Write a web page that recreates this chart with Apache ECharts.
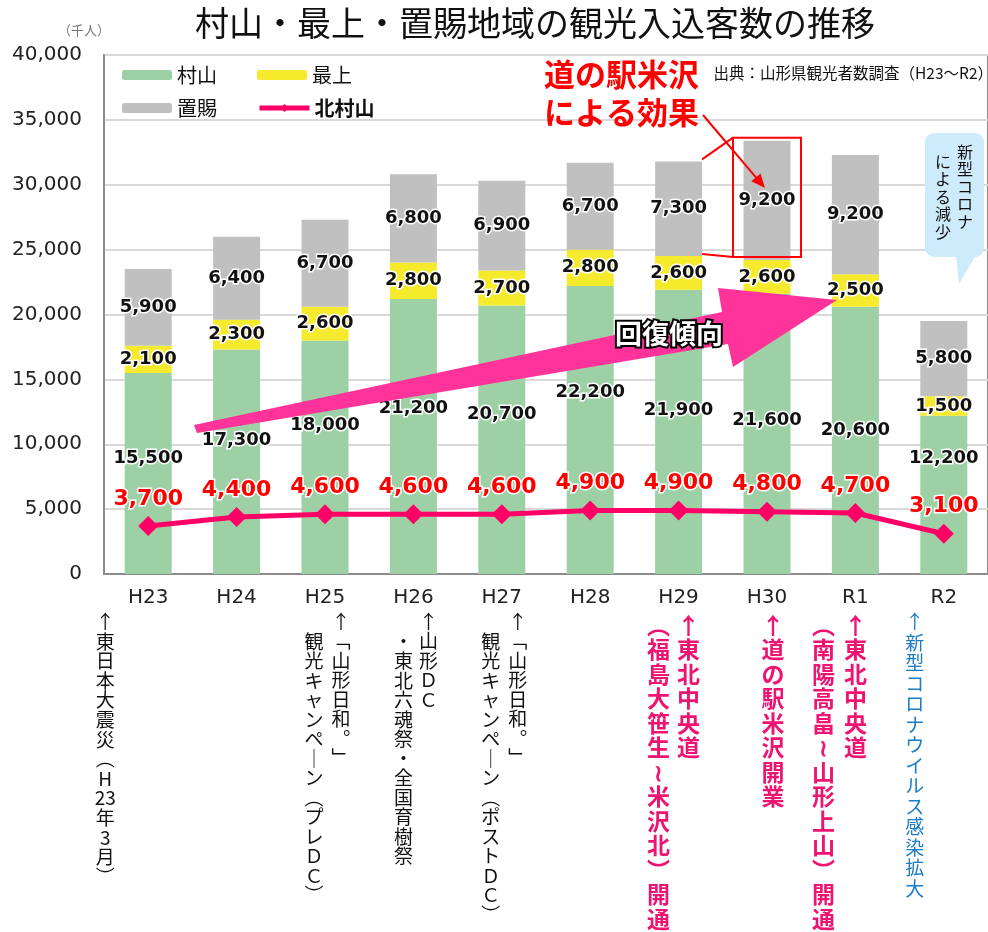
<!DOCTYPE html>
<html><head><meta charset="utf-8">
<script src="https://cdn.jsdelivr.net/npm/echarts@6/dist/echarts.min.js"></script>
<style>html,body{margin:0;padding:0;background:#fff}#c{width:988px;height:932px}</style>
</head><body><div id="c"></div>
<script>
// ---- data ----
const categories = ['H23','H24','H25','H26','H27','H28','H29','H30','R1','R2'];
const murayama = [15500,17300,18000,21200,20700,22200,21900,21600,20600,12200];
const mogami = [2100,2300,2600,2800,2700,2800,2600,2600,2500,1500];
const okitama = [5900,6400,6700,6800,6900,6700,7300,9200,9200,5800];
const totals = [23500,26000,27300,30800,30300,31700,31800,33400,32300,19500];
const kitaMurayama = [3700,4400,4600,4600,4600,4900,4900,4800,4700,3100];
const seriesNames = ['村山','最上','置賜','北村山'];
const titleText = '村山・最上・置賜地域の観光入込客数の推移';
const unitText = '（千人）';
const sourceText = '出典：山形県観光者数調査（H23～R2）';
const effectText = '道の駅米沢\nによる効果';
const trendText = '回復傾向';
const coronaBubble = ['新型コロナ','による減少'];
const eventNotes = [
  {cat:0, cols:['↑東日本大震災（H23年3月）']},
  {cat:2, cols:['↑「山形日和。」','観光キャンペーン（プレＤＣ）']},
  {cat:3, cols:['↑山形ＤＣ','・東北六魂祭・全国育樹祭']},
  {cat:4, cols:['↑「山形日和。」','観光キャンペーン（ポストＤＣ）']},
  {cat:6, cols:['↑東北中央道','（福島大笹生～米沢北）開通']},
  {cat:7, cols:['↑道の駅米沢開業']},
  {cat:8, cols:['↑東北中央道','（南陽高畠～山形上山）開通']},
  {cat:9, cols:['↑新型コロナウイルス感染拡大']}
];

// ---- chart ----
const chart = echarts.init(document.getElementById('c'), null, {renderer:'canvas'});
const numFont = 'DejaVu Sans';
const jpFont = '"Noto Sans CJK JP", "Noto Sans CJK SC", sans-serif';
const fmt = v => Number(v).toLocaleString('en-US');
const C_GREEN = '#9ed0a6', C_YEL = '#f6ea2c', C_GRAY = '#c0c0c0', C_LINE = '#ff0066';

// label nudges (style only) for the 村山 labels
const muraShift = [-15,-21,-32,-28,-25,-38,-22,-14,-10,-37];

const valLabel = {show:true, position:'inside', formatter:p=>fmt(p.value), color:'#111',
  fontFamily:numFont, fontWeight:'bold', fontSize:18, textBorderColor:'#fff', textBorderWidth:3};
const legText = {fontFamily:jpFont, fontSize:20, color:'#111'};

const option = {
  animation:false,
  backgroundColor:'#fff',
  title:{text:titleText, left:530, top:1, textAlign:'center',
    textStyle:{fontFamily:jpFont, fontSize:34, fontWeight:'normal', color:'#111'}},
  legend:[
    {data:[seriesNames[0],seriesNames[1]], left:117, top:60, itemWidth:50, itemHeight:10, itemGap:40,
      textStyle:legText},
    {data:[seriesNames[2], {name:seriesNames[3], textStyle:{fontWeight:'bold'}, lineStyle:{width:5}}],
      left:117, top:93, itemWidth:50, itemHeight:10, itemGap:40, textStyle:legText}
  ],
  grid:{left:104, top:55, width:890, height:519, show:true, borderColor:'#8c8c8c', borderWidth:2},
  xAxis:{type:'category', data:categories, axisTick:{show:false},
    axisLine:{lineStyle:{color:'#8c8c8c', width:2}},
    axisLabel:{fontFamily:numFont, fontSize:20, color:'#222', margin:14}},
  yAxis:{type:'value', min:0, max:40000, interval:5000,
    axisLine:{show:true, lineStyle:{color:'#8c8c8c', width:2}}, axisTick:{show:false},
    axisLabel:{formatter:fmt, fontFamily:numFont, fontSize:20, color:'#222', margin:22},
    splitLine:{lineStyle:{color:'#d9d9d9', width:2}}},
  series:[
    {name:seriesNames[0], type:'bar', stack:'t', barWidth:47, itemStyle:{color:C_GREEN},
      data:murayama.map((v,i)=>({value:v, label:{offset:[0, muraShift[i]]}})), label:valLabel},
    {name:seriesNames[1], type:'bar', stack:'t', barWidth:47, itemStyle:{color:C_YEL},
      data:mogami, label:valLabel},
    {name:seriesNames[2], type:'bar', stack:'t', barWidth:47, itemStyle:{color:C_GRAY},
      data:okitama, label:valLabel},
    {name:'合計', type:'scatter', data:totals, symbolSize:1, itemStyle:{opacity:0}, z:4,
      label:{show:true, position:'top', distance:3, formatter:p=>fmt(p.value), color:'#7a4a1c',
        fontFamily:numFont, fontSize:19, textBorderColor:'#fff', textBorderWidth:2}},
    {name:seriesNames[3], type:'line', data:kitaMurayama, z:6, symbol:'diamond', symbolSize:20,
      lineStyle:{color:C_LINE, width:5}, itemStyle:{color:C_LINE},
      label:{show:true, position:'top', distance:6, formatter:p=>fmt(p.value), color:'#ff0000',
        fontFamily:numFont, fontWeight:'bold', fontSize:22, textBorderColor:'#fff', textBorderWidth:3}}
  ]
};
chart.setOption(option);

// ---- annotations ----
const px = (i, v) => chart.convertToPixel({gridIndex:0}, [i, v]);
const vmap = {'（':'︵','）':'︶','「':'﹁','」':'﹂','。':'︒','ー':'｜','～':'≀'};
const vert = s => (s.match(/\d+|./gu) || []).map(c => vmap[c] || c).join('\n');
const g = [];

// unit + source
g.push({type:'text', z:10, style:{text:unitText, x:58, y:30, fill:'#777', fontFamily:jpFont, fontSize:13,
  align:'left', verticalAlign:'middle', textAlign:'left', textVerticalAlign:'middle'}});
g.push({type:'text', z:10, style:{text:sourceText, x:993, y:73, fill:'#111', fontFamily:jpFont, fontSize:15.5,
  align:'right', verticalAlign:'middle', textAlign:'right', textVerticalAlign:'middle'}});

// trend arrow
g.push({type:'polygon', z:3, shape:{points:[[194,425],[722,312],[718,288],[837,300],[733,367],[728,344],[197,433]]},
  style:{fill:'#ff3399'}});
g.push({type:'text', z:11, style:{text:trendText, x:669, y:334, fill:'#fff', stroke:'#000', lineWidth:4,
  fontFamily:jpFont, fontSize:27, fontWeight:'bold', align:'center', verticalAlign:'middle',
  textAlign:'center', textVerticalAlign:'middle'}});

// 道の駅米沢 callout
const h29x = px(6, 0)[0] + 23.5;
const h29t = px(6, totals[6])[1], h29b = px(6, murayama[6] + mogami[6])[1];
const h30c = px(7, 0)[0];
const bx0 = h30c - 34, bx1 = h30c + 34, by0 = px(7, totals[7])[1] - 3, by1 = px(7, murayama[7] + mogami[7])[1] - 3;
g.push({type:'rect', z:9, shape:{x:bx0, y:by0, width:bx1 - bx0, height:by1 - by0}, style:{fill:null, stroke:'#ff0000', lineWidth:2}});
g.push({type:'line', z:9, shape:{x1:h29x, y1:h29t - 2, x2:bx0, y2:by0}, style:{stroke:'#ff0000', lineWidth:2}});
g.push({type:'line', z:9, shape:{x1:h29x, y1:h29b - 2, x2:bx0, y2:by1}, style:{stroke:'#ff0000', lineWidth:2}});
g.push({type:'text', z:10, style:{text:effectText, x:544, y:55, fill:'#ff0000', fontFamily:jpFont, fontSize:31,
  fontWeight:'bold', lineHeight:38, align:'left', verticalAlign:'top', textAlign:'left', textVerticalAlign:'top'}});
(function(){
  const x1 = 703, y1 = 115, x2 = 765, y2 = 188;
  const a = Math.atan2(y2 - y1, x2 - x1), L = 14, W = 6;
  const bxp = x2 - L * Math.cos(a), byp = y2 - L * Math.sin(a);
  g.push({type:'line', z:9, shape:{x1, y1, x2:bxp, y2:byp}, style:{stroke:'#ff0000', lineWidth:2}});
  g.push({type:'polygon', z:9, shape:{points:[[x2,y2],[bxp - W*Math.sin(a), byp + W*Math.cos(a)],[bxp + W*Math.sin(a), byp - W*Math.cos(a)]]},
    style:{fill:'#ff0000'}});
})();

// corona bubble
g.push({type:'rect', z:9, shape:{x:925, y:133, width:59, height:124, r:9}, style:{fill:'#cdebfb'}});
g.push({type:'polygon', z:9, shape:{points:[[956,255],[976,255],[959,284]]}, style:{fill:'#cdebfb'}});
g.push({type:'text', z:10, style:{text:vert(coronaBubble[0]), x:965, y:143, fill:'#111', fontFamily:jpFont, fontSize:16,
  lineHeight:17.5, align:'center', verticalAlign:'top', textAlign:'center', textVerticalAlign:'top'}});
g.push({type:'text', z:10, style:{text:vert(coronaBubble[1]), x:943, y:153, fill:'#111', fontFamily:jpFont, fontSize:16,
  lineHeight:17.5, align:'center', verticalAlign:'top', textAlign:'center', textVerticalAlign:'top'}});

// event notes (vertical text)
const noteStyle = {
  0:{fill:'#111', fs:19, lh:19.6, fw:'normal', dx:[-43], top:[612]},
  2:{fill:'#111', fs:19, lh:19.5, fw:'normal', dx:[16,-11], top:[612,632]},
  3:{fill:'#111', fs:19, lh:19.5, fw:'normal', dx:[15,-10], top:[612,632]},
  4:{fill:'#111', fs:19, lh:19.5, fw:'normal', dx:[16,-11], top:[612,632]},
  6:{fill:'#ee1572', fs:23, lh:24.5, fw:'bold', dx:[10,-20], top:[613,613]},
  7:{fill:'#ee1572', fs:23, lh:24.5, fw:'bold', dx:[6], top:[613]},
  8:{fill:'#ee1572', fs:23, lh:24.5, fw:'bold', dx:[0,-32], top:[613,613]},
  9:{fill:'#1c7cc4', fs:19, lh:20.5, fw:'normal', dx:[-29], top:[612]}
};
eventNotes.forEach(n => {
  const st = noteStyle[n.cat];
  const cx = px(n.cat, 0)[0];
  n.cols.forEach((t, k) => {
    g.push({type:'text', z:10, style:{text:vert(t), x:cx + st.dx[k], y:st.top[k], fill:st.fill,
      fontFamily:jpFont, fontSize:st.fs, fontWeight:st.fw, lineHeight:st.lh,
      align:'center', verticalAlign:'top', textAlign:'center', textVerticalAlign:'top'}});
  });
});

chart.setOption({graphic:g});
</script></body></html>
